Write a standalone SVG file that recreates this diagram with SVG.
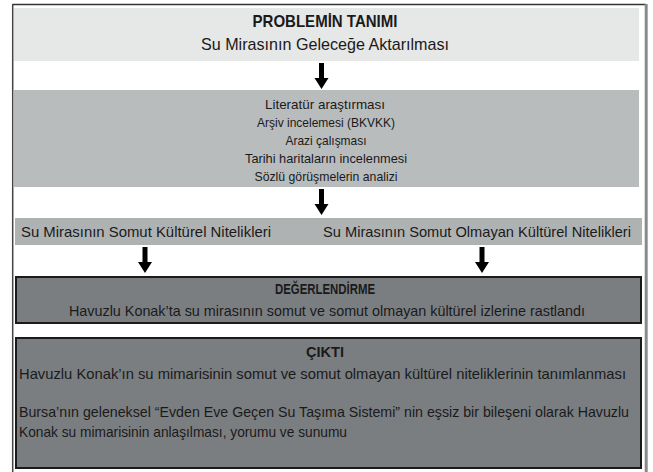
<svg xmlns="http://www.w3.org/2000/svg" width="653" height="472" viewBox="0 0 653 472">
<style>
text{font-family:"Liberation Sans","Open Sans",Arial,sans-serif;fill:#1a1a1a}
.t{font-size:17px}
.b{font-weight:bold}
.m{font-size:13.5px}
.r{font-size:15px}
.s{font-size:14.2px}
.dark{fill:#7b7e81;stroke:#1a1a1a;stroke-width:2}
.arrow{fill:#000}
</style>
<defs>
<path id="arr" d="M-2.5,0 H2.5 V15 H7 L0,26 L-7,15 H-2.5 Z"/>
</defs>
<rect width="653" height="472" fill="#fff"/>
<g id="frame">
<line x1="12.5" y1="4.5" x2="646" y2="4.5" stroke="#333" stroke-width="1.5"/>
<line x1="12.7" y1="4" x2="12.7" y2="472" stroke="#444" stroke-width="1.5"/>
<line x1="646.2" y1="4" x2="646.2" y2="472" stroke="#8a8a8a" stroke-width="3"/>
</g>
<g id="problem">
<rect x="14" y="8" width="625" height="53" fill="#e6e7e7"/>
<text class="t b" x="325" y="27" text-anchor="middle" textLength="145" lengthAdjust="spacingAndGlyphs">PROBLEMİN TANIMI</text>
<text class="t" x="325" y="50" text-anchor="middle" textLength="248" lengthAdjust="spacingAndGlyphs">Su Mirasının Geleceğe Aktarılması</text>
</g>
<g id="methods">
<rect x="14" y="90" width="625" height="97" fill="#b9bcbd"/>
<text class="m" x="325" y="109" text-anchor="middle" textLength="120" lengthAdjust="spacingAndGlyphs">Literatür araştırması</text>
<text class="m" x="326" y="127" text-anchor="middle" textLength="138" lengthAdjust="spacingAndGlyphs">Arşiv incelemesi (BKVKK)</text>
<text class="m" x="326" y="145" text-anchor="middle" textLength="81" lengthAdjust="spacingAndGlyphs">Arazi çalışması</text>
<text class="m" x="326" y="163" text-anchor="middle" textLength="162" lengthAdjust="spacingAndGlyphs">Tarihi haritaların incelenmesi</text>
<text class="m" x="326" y="181" text-anchor="middle" textLength="143" lengthAdjust="spacingAndGlyphs">Sözlü görüşmelerin analizi</text>
</g>
<g id="attributes">
<rect x="15" y="218" width="627" height="27" fill="#afb2b3"/>
<text class="r" x="21" y="237" textLength="250" lengthAdjust="spacingAndGlyphs">Su Mirasının Somut  Kültürel Nitelikleri</text>
<text class="r" x="323" y="237" textLength="308" lengthAdjust="spacingAndGlyphs">Su Mirasının Somut Olmayan Kültürel Nitelikleri</text>
</g>
<g id="evaluation">
<rect class="dark" x="16" y="277" width="625" height="46"/>
<text class="r b" x="325" y="294" text-anchor="middle" textLength="100" lengthAdjust="spacingAndGlyphs">DEĞERLENDİRME</text>
<text class="r" x="327" y="316" text-anchor="middle" textLength="516" lengthAdjust="spacingAndGlyphs">Havuzlu Konak’ta su mirasının somut ve somut olmayan kültürel izlerine rastlandı</text>
</g>
<g id="output">
<rect class="dark" x="16" y="338" width="625" height="130"/>
<text class="r b" x="325" y="357" text-anchor="middle" textLength="38" lengthAdjust="spacingAndGlyphs">ÇIKTI</text>
<text class="r" x="19" y="379" textLength="607" lengthAdjust="spacingAndGlyphs">Havuzlu Konak’ın su mimarisinin somut ve somut olmayan kültürel niteliklerinin tanımlanması</text>
<text class="s" x="19" y="417" textLength="610" lengthAdjust="spacingAndGlyphs">Bursa’nın geleneksel “Evden Eve Geçen Su Taşıma Sistemi” nin eşsiz bir bileşeni olarak Havuzlu</text>
<text class="r" x="19" y="437" textLength="328" lengthAdjust="spacingAndGlyphs">Konak su mimarisinin anlaşılması, yorumu ve sunumu</text>
</g>
<g id="connectors" class="arrow">
<use href="#arr" x="321.5" y="63"/>
<use href="#arr" x="321.5" y="189"/>
<use href="#arr" x="145" y="247"/>
<use href="#arr" x="482" y="247"/>
</g>
</svg>
